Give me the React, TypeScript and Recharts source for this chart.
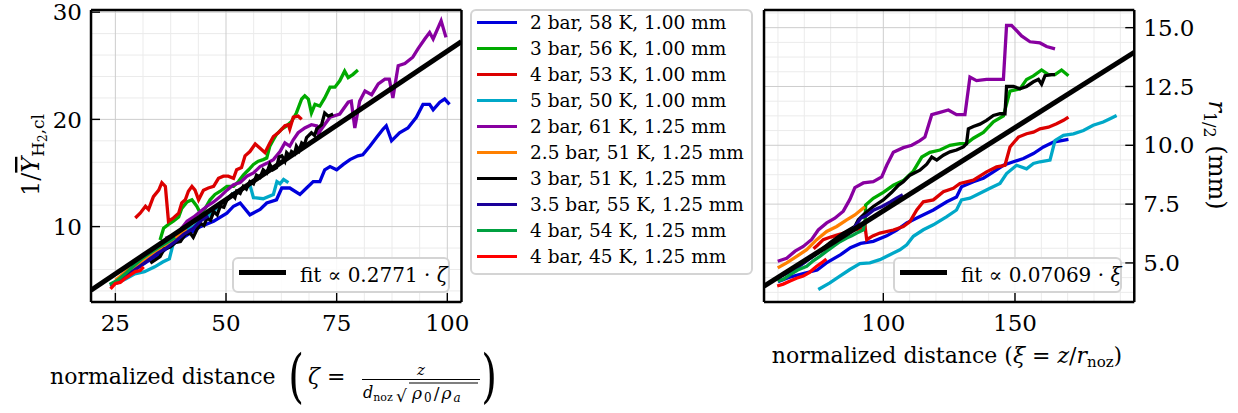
import React from 'react';
import { LineChart, Line, XAxis, YAxis, CartesianGrid } from 'recharts';

type Pt = [number, number];

const seriesLabels = [
  '2 bar, 58 K, 1.00 mm',
  '3 bar, 56 K, 1.00 mm',
  '4 bar, 53 K, 1.00 mm',
  '5 bar, 50 K, 1.00 mm',
  '2 bar, 61 K, 1.25 mm',
  '2.5 bar, 51 K, 1.25 mm',
  '3 bar, 51 K, 1.25 mm',
  '3.5 bar, 55 K, 1.25 mm',
  '4 bar, 54 K, 1.25 mm',
  '4 bar, 45 K, 1.25 mm',
];
const seriesColors = ['#0000dc', '#00aa00', '#dc0000', '#00a8c8', '#8800a0', '#ff8000', '#000000', '#1a0099', '#00a040', '#ff0000'];

// left panel: zeta vs 1/Y_H2,cl
const zeta2bar58K: Pt[] = [[23.9,4.4],[26.1,5.0],[29.1,5.9],[32.1,6.7],[35.1,7.5],[38.1,8.4],[41.2,9.2],[44.2,10.0],[47.2,10.5],[50.2,11.25],[51.7,11.9],[53.2,12.2],[55.4,11.1],[57.7,11.6],[59.2,12.2],[61.4,12.5],[62.6,13.6],[64.4,13.6],[66.7,13.0],[68.2,13.6],[69.7,14.2],[71.2,14.2],[72.3,15.3],[73.5,15.6],[75.0,15.3],[76.5,15.8],[78.0,16.25],[79.8,16.6],[80.9,16.7],[82.5,17.5],[84.0,18.3],[85.5,19.1],[86.2,19.4],[87.4,18.0],[89.2,18.75],[91.1,19.2],[93.0,20.2],[94.5,21.4],[96.0,21.4],[96.8,20.9],[98.3,21.6],[99.4,21.9],[100.5,21.4]];
const zeta3bar56K: Pt[] = [[35.1,8.75],[35.9,9.85],[37.0,10.2],[38.1,10.5],[39.3,10.9],[40.0,11.7],[41.2,12.3],[42.3,12.5],[43.4,11.9],[44.2,11.25],[45.3,11.7],[46.4,12.5],[47.5,13.0],[48.7,13.3],[50.2,13.75],[51.7,13.75],[52.8,14.2],[53.9,14.8],[55.1,15.3],[56.2,15.8],[57.3,16.1],[58.4,16.25],[59.2,16.4],[59.9,17.5],[60.7,18.1],[61.4,18.6],[62.6,19.1],[63.7,19.4],[64.8,19.8],[65.9,20.6],[67.1,21.9],[67.8,22.2],[68.6,21.9],[69.3,20.6],[70.1,21.4],[71.2,21.25],[72.3,22.0],[73.5,23.0],[74.6,23.0],[75.7,23.6],[76.8,24.5],[77.6,23.9],[78.7,24.2],[79.8,24.6]];
const zeta4bar53K: Pt[] = [[29.5,10.8],[30.6,11.25],[31.8,11.9],[32.5,11.6],[33.6,12.8],[34.8,13.4],[35.5,14.1],[36.3,13.75],[37.0,10.5],[38.1,10.8],[39.3,11.25],[40.0,12.2],[40.8,12.5],[41.5,13.3],[42.3,13.75],[43.0,13.4],[43.8,12.5],[44.9,13.4],[46.0,13.6],[47.2,13.75],[48.3,14.5],[49.4,14.7],[50.5,14.7],[51.7,14.5],[52.4,15.3],[53.5,15.5],[54.3,16.6],[55.4,17.0],[56.6,17.7],[57.7,17.3],[58.8,16.9],[59.9,17.8],[60.7,18.4],[61.8,18.75],[62.6,19.1],[63.3,19.4],[64.1,19.5],[64.4,19.1],[65.2,20.2],[66.3,20.3],[67.1,20.0]];
const zeta5bar50K: Pt[] = [[25.2,4.7],[27.3,5.1],[29.4,5.6],[31.6,5.8],[33.9,6.25],[35.7,6.7],[37.2,7.0],[38.0,8.3],[38.9,8.75],[40.0,9.2],[41.2,9.7],[42.7,10.0],[44.2,10.6],[45.7,10.9],[47.2,11.4],[48.7,12.2],[50.2,12.5],[51.7,13.1],[53.2,13.4],[54.7,13.75],[55.4,13.9],[56.2,12.7],[58.4,12.6],[60.7,13.0],[61.5,14.2],[62.2,14.0],[63.0,14.4],[64.1,14.1]];
const zeta2bar61K: Pt[] = [[36.3,8.9],[38.1,9.2],[39.7,9.7],[41.2,10.5],[42.7,10.9],[44.2,11.4],[45.7,11.9],[47.2,12.3],[48.7,12.8],[50.2,13.4],[51.7,13.9],[53.2,14.1],[54.7,14.7],[56.2,15.0],[57.7,15.6],[59.2,15.9],[60.7,16.25],[62.2,17.0],[63.3,17.8],[64.4,17.5],[65.2,18.1],[66.3,18.75],[67.8,19.2],[69.3,19.5],[70.5,19.4],[71.0,18.4],[71.2,18.9],[73.5,20.2],[75.7,20.5],[77.6,21.6],[78.3,21.7],[79.1,19.2],[80.2,21.7],[81.4,22.65],[82.9,22.3],[84.4,23.3],[85.9,23.75],[86.9,23.75],[87.7,22.0],[88.9,25.0],[90.4,25.2],[92.2,25.8],[93.4,26.6],[94.9,27.5],[96.0,28.1],[96.8,27.5],[98.6,29.2],[99.7,27.65]];
const zeta2p5bar51K: Pt[] = [[25.0,5.0],[26.5,5.5],[28.0,6.0],[29.5,6.3],[31.0,6.8],[32.5,7.2],[34.0,7.6],[35.5,8.0],[37.0,8.5],[38.5,8.9],[40.0,9.4],[41.0,9.8]];
const zeta3bar51K: Pt[] = [[32.9,6.6],[34.0,6.9],[35.1,7.2],[36.0,7.9],[37.4,8.1],[38.5,8.5],[39.7,8.6],[40.8,9.3],[41.9,9.4],[42.6,9.0],[43.4,9.7],[44.2,10.3],[45.0,10.1],[45.7,10.8],[46.5,10.6],[47.2,11.4],[48.0,11.1],[48.7,11.9],[49.5,11.8],[50.2,12.5],[51.3,13.0],[52.0,12.7],[52.4,13.3],[53.2,13.1],[53.9,13.75],[54.6,13.5],[55.4,14.2],[56.2,14.0],[56.9,14.8],[57.7,14.6],[58.4,15.3],[59.2,15.0],[59.9,15.8],[60.6,15.3],[61.4,15.5],[62.0,16.5],[62.6,16.6],[63.3,16.1],[63.7,16.9],[64.4,16.6],[64.8,17.0],[65.5,16.8],[65.9,17.5],[66.5,17.1],[67.1,17.8],[67.7,17.6],[68.2,18.3],[69.3,18.75],[70.0,18.5],[70.5,19.1],[71.6,19.5],[72.3,20.6],[73.1,20.3],[74.2,20.5]];
const zeta3p5bar55K: Pt[] = [[24.5,4.7],[26.5,5.2],[28.5,5.7],[30.5,6.3],[32.5,6.9],[34.5,7.5],[36.5,8.0],[38.5,8.6],[40.5,9.3],[42.5,9.8],[44.5,10.6],[46.0,11.0]];
const zeta4bar54K: Pt[] = [[23.7,4.6],[25.5,5.0],[27.5,5.7],[29.3,6.4],[31.0,7.0],[32.7,7.5],[35.0,8.1],[37.0,8.6],[38.5,9.0]];
const zeta4bar45K: Pt[] = [[23.9,4.2],[25.0,4.7],[26.1,4.8],[27.3,5.2],[28.4,5.5],[29.5,5.8],[30.6,5.9],[31.4,6.25]];
const zetaFit: Pt[] = [[19.5,4.07],[103.2,27.25]];

// right panel: xi vs r_1/2 (mm)
const xi2bar58K: Pt[] = [[60,4.2],[64.6,4.4],[69.6,4.55],[74.9,4.7],[78.4,5.0],[83.8,5.35],[87.5,5.65],[91.4,5.83],[96.2,5.92],[101.3,6.15],[105.1,6.4],[108.9,6.7],[113.9,6.97],[119.0,7.25],[124.1,7.6],[127.8,7.8],[129.7,8.24],[134.2,8.45],[138.0,8.6],[141.8,8.87],[145.6,9.15],[149.4,9.3],[153.2,9.44],[157.0,9.65],[160.8,9.93],[164.6,10.14],[167.7,10.2],[170.3,10.25]];
const xi3bar56K: Pt[] = [[93.0,6.5],[93.3,7.46],[96.2,7.75],[100,8.0],[103.8,8.3],[107.6,8.5],[111.4,8.9],[114.6,9.5],[117.7,9.7],[121.5,9.8],[125.3,10.0],[129.1,10.07],[131.6,10.07],[134.2,10.3],[138.0,10.55],[141.8,11.0],[145.6,11.25],[148.1,12.3],[151.9,12.4],[154.4,12.8],[157.0,12.95],[160.1,13.2],[162.7,13.0],[165.2,13.0],[167.7,13.2],[170.3,12.96]];
const xi4bar53K: Pt[] = [[73.5,5.6],[75,5.75],[77.2,5.99],[80,6.1],[83,6.2],[86.1,6.3],[89.2,6.4],[92.4,6.48],[93.0,6.6],[93.7,5.99],[96,6.15],[98.7,6.27],[103.8,6.4],[107.6,6.55],[110.1,6.76],[112.7,7.25],[115.2,7.6],[119.0,7.68],[122.8,8.03],[126.6,8.17],[129.1,8.38],[134.2,8.52],[139.2,8.87],[143.0,9.08],[146.2,9.15],[148.1,9.93],[151.3,10.35],[154.4,10.49],[157.0,10.56],[159.5,10.7],[162.7,10.77],[165.8,10.92],[168.4,11.06],[170.3,11.2]];
const xi5bar50K: Pt[] = [[75.3,3.87],[79.7,4.15],[83.5,4.44],[87.3,4.72],[91.1,4.97],[94.9,5.0],[98.7,5.14],[102.5,5.35],[106.3,5.56],[108.9,5.77],[111.4,6.13],[115.2,6.41],[119.0,6.62],[124.1,6.97],[127.8,7.25],[129.7,7.68],[132.9,7.75],[136.7,7.96],[140.5,8.17],[144.3,8.38],[146.8,8.8],[150.6,9.15],[154.4,9.0],[157.0,9.23],[159.5,9.3],[163.3,9.37],[165.2,10.2],[168.4,10.42],[172.2,10.49],[176.0,10.63],[179.7,10.85],[183.5,10.99],[186.1,11.13],[188.6,11.27]];
const xi2bar61K: Pt[] = [[59.9,5.07],[63.3,5.2],[66.5,5.5],[69.6,5.7],[72.8,6.0],[75.3,6.4],[78.5,6.7],[81.6,6.9],[84.8,7.2],[87.3,7.7],[89.2,8.2],[92.4,8.4],[96.2,8.45],[99.4,8.66],[101.3,9.15],[103.8,9.7],[107.6,9.9],[110.8,10.0],[113.9,10.2],[115.8,10.35],[118.4,11.3],[121.5,11.4],[124.7,11.5],[127.8,11.3],[131.0,11.3],[132.9,12.9],[135.4,12.75],[139.2,12.8],[143.0,12.8],[145.6,12.8],[146.8,15.1],[148.7,15.1],[152.5,14.65],[155.7,14.4],[159.5,14.35],[162.0,14.2],[165.2,14.1]];
const xi2p5bar51K: Pt[] = [[59.9,4.79],[63.3,5.0],[67.1,5.28],[70.9,5.56],[74.7,5.99],[78.5,6.34],[82.3,6.55],[86.1,6.83],[89.2,7.04],[93.0,7.39]];
const xi3bar51K: Pt[] = [[59.9,4.37],[64.6,4.65],[69.6,5.0],[74.7,5.4],[79.7,5.85],[84.8,6.27],[89.2,6.55],[90.5,6.83],[93.0,7.1],[96.2,7.4],[100,7.68],[103.2,8.0],[105.7,8.3],[107.6,8.45],[110.1,8.73],[113.9,8.94],[116.5,9.2],[118.4,9.5],[120.3,9.37],[122.8,9.58],[125.3,9.72],[127.8,9.8],[130.4,9.93],[131.6,10.07],[132.3,10.7],[134.2,10.8],[136.7,10.9],[139.2,11.06],[141.8,11.27],[144.3,11.34],[146.2,11.34],[146.8,12.5],[149.4,12.5],[151.9,12.4],[154.4,12.5],[157.0,12.7],[158.9,12.8],[160.1,12.6],[161.4,12.96],[163.9,13.0],[165.2,13.0]];
const xi3p5bar55K: Pt[] = [[59.7,4.37],[63,4.55],[67.3,4.79],[71,5.1],[74.9,5.42],[78.5,5.7],[82.5,5.98],[86,6.2],[88.8,6.47],[91.4,6.9],[93.5,7.0],[96.4,7.25],[99.5,7.4],[102.8,7.6],[105,7.75],[107.4,7.9]];
const xi4bar54K: Pt[] = [[59.9,4.23],[62,4.3],[64.6,4.5],[67.5,4.7],[70.9,4.86],[73.5,5.1],[75.9,5.28],[78.5,5.5],[81.0,5.7],[83.5,5.9],[86.1,6.06],[88,6.15],[89.9,6.27],[92.4,6.4],[93.0,6.8]];
const xi4bar45K: Pt[] = [[59.7,4.02],[62,4.1],[64.6,4.23],[67,4.35],[69.6,4.44],[72,4.6],[74.7,4.86],[76.5,5.0],[78.4,5.17]];
const xiFit: Pt[] = [[54.7,4.01],[195.3,13.95]];

const leftSeries = [zeta2bar58K, zeta3bar56K, zeta4bar53K, zeta5bar50K, zeta2bar61K, zeta2p5bar51K, zeta3bar51K, zeta3p5bar55K, zeta4bar54K, zeta4bar45K];
const rightSeries = [xi2bar58K, xi3bar56K, xi4bar53K, xi5bar50K, xi2bar61K, xi2p5bar51K, xi3bar51K, xi3p5bar55K, xi4bar54K, xi4bar45K];

// ticks
const zetaMajor = [25, 50, 75, 100];
const zetaMinor = [31.25, 37.5, 43.75, 56.25, 62.5, 68.75, 81.25, 87.5, 93.75];
const invYMajor = [10, 20, 30];
const invYMinor = [4, 6, 8, 12, 14, 16, 18, 22, 24, 26, 28];
const xiMajor = [100, 150];
const xiMinor = [60, 70, 80, 90, 110, 120, 130, 140, 160, 170, 180, 190];
const rMajor = [5, 7.5, 10, 12.5, 15];
const rMinor = [3.75, 4.375, 5.625, 6.25, 6.875, 8.125, 8.75, 9.375, 10.625, 11.25, 11.875, 13.125, 13.75, 14.375, 15.625];

const FONT = "'DejaVu Serif', serif";
const tickFont = { fontFamily: FONT, fontSize: 23, fill: '#000' };
const frame = { stroke: '#000', strokeWidth: 2.5 };
const pen = { stroke: '#000', strokeWidth: 1.4 };
const THIN = 0.01; // axes take (almost) no room; the margins place the plot box

const toRows = (pts: Pt[]) => pts.map(([x, y]) => ({ x, y }));

interface PanelProps {
  width: number;
  margin: { top: number; right: number; bottom: number; left: number };
  xDomain: [number, number];
  yDomain: [number, number];
  xMajor: number[];
  xMinor: number[];
  yMajor: number[];
  yMinor: number[];
  ySide: 'left' | 'right';
  series: Pt[][];
  fit: Pt[];
  yFormat?: (v: number) => string;
}

const Panel = ({ width, margin, xDomain, yDomain, xMajor, xMinor, yMajor, yMinor, ySide, series, fit, yFormat }: PanelProps) => {
  const otherSide = ySide === 'left' ? 'right' : 'left';
  const common = { type: 'number' as const, allowDataOverflow: true, interval: 0 as const };
  return (
    <LineChart width={width} height={413} margin={margin}>
      <CartesianGrid xAxisId="x" yAxisId="y" verticalValues={xMinor} horizontalValues={yMinor} stroke="#ebebeb" strokeWidth={1} />
      <CartesianGrid xAxisId="x" yAxisId="y" verticalValues={xMajor} horizontalValues={yMajor} stroke="#cdcdcd" strokeWidth={1} />
      <XAxis xAxisId="x" dataKey="x" {...common} domain={xDomain} ticks={xMajor} height={THIN}
        tickSize={-9} tickMargin={22} tick={tickFont} axisLine={frame} tickLine={pen} />
      <XAxis xAxisId="xm" {...common} domain={xDomain} ticks={xMinor} height={THIN}
        tickSize={-5.5} tick={false} axisLine={false} tickLine={pen} />
      <XAxis xAxisId="xt" orientation="top" {...common} domain={xDomain} ticks={xMajor} height={THIN}
        tickSize={-9} tick={false} axisLine={frame} tickLine={pen} />
      <XAxis xAxisId="xtm" orientation="top" {...common} domain={xDomain} ticks={xMinor} height={THIN}
        tickSize={-5.5} tick={false} axisLine={false} tickLine={pen} />
      <YAxis yAxisId="y" orientation={ySide} {...common} domain={yDomain} ticks={yMajor} width={THIN}
        tickSize={-9} tickMargin={18} tick={tickFont} axisLine={frame} tickLine={pen} tickFormatter={yFormat} />
      <YAxis yAxisId="ym" orientation={ySide} {...common} domain={yDomain} ticks={yMinor} width={THIN}
        tickSize={-5.5} tick={false} axisLine={false} tickLine={pen} />
      <YAxis yAxisId="yo" orientation={otherSide} {...common} domain={yDomain} ticks={yMajor} width={THIN}
        tickSize={-9} tick={false} axisLine={frame} tickLine={pen} />
      <YAxis yAxisId="yom" orientation={otherSide} {...common} domain={yDomain} ticks={yMinor} width={THIN}
        tickSize={-5.5} tick={false} axisLine={false} tickLine={pen} />
      {series.map((pts, i) => (
        <Line key={seriesLabels[i]} name={seriesLabels[i]} xAxisId="x" yAxisId="y" data={toRows(pts)} dataKey="y"
          type="linear" stroke={seriesColors[i]} strokeWidth={3.3} dot={false} isAnimationActive={false} />
      ))}
      <Line name="fit" xAxisId="x" yAxisId="y" data={toRows(fit)} dataKey="y" type="linear"
        stroke="#000" strokeWidth={5} dot={false} isAnimationActive={false} />
    </LineChart>
  );
};

const FitLegend = ({ left, width, coef, sym }: { left: number; width: number; coef: string; sym: string }) => (
  <div style={{ position: 'absolute', left, top: 257, width, height: 36, boxSizing: 'border-box',
    border: '2px solid #d4d4d4', borderRadius: 6, background: 'rgba(255,255,255,0.85)' }}>
    <div style={{ position: 'absolute', left: 5, top: 11, width: 47, height: 5, background: '#000' }} />
    <div style={{ position: 'absolute', left: 66, top: 0, lineHeight: '32px', fontFamily: FONT, fontSize: 20, whiteSpace: 'nowrap' }}>
      fit ∝ {coef} · <i>{sym}</i>
    </div>
  </div>
);

const SeriesLegend = () => (
  <div style={{ position: 'absolute', left: 470, top: 9, width: 283, height: 266, boxSizing: 'border-box',
    border: '2px solid #d4d4d4', borderRadius: 6, background: '#fff' }}>
    {seriesLabels.map((label, i) => (
      <div key={label} style={{ position: 'absolute', left: 0, top: -1.3 + 26 * i, height: 26, width: 279 }}>
        <div style={{ position: 'absolute', left: 5, top: 11.3, width: 40, height: 3.4, background: seriesColors[i] }} />
        <div style={{ position: 'absolute', left: 58, top: 0, lineHeight: '26px', fontFamily: FONT, fontSize: 18.5, whiteSpace: 'nowrap' }}>
          {label}
        </div>
      </div>
    ))}
  </div>
);

const AxisLabels = () => (
  <svg width={1238} height={413} style={{ position: 'absolute', left: 0, top: 0, pointerEvents: 'none' }}
    fontFamily={FONT} fill="#000">
    {/* left y label */}
    <text transform="translate(39,155) rotate(-90)" textAnchor="middle" fontSize={24}>
      1/<tspan fontStyle="italic" textDecoration="overline">Y</tspan>
      <tspan fontSize={17} dy={5}>H</tspan>
      <tspan fontSize={12} dy={3}>2</tspan>
      <tspan fontSize={17} dy={-3}>,cl</tspan>
    </text>
    {/* right y label */}
    <text transform="translate(1209,155) rotate(90)" textAnchor="middle" fontSize={24}>
      <tspan fontStyle="italic">r</tspan>
      <tspan fontSize={16} dy={5}>1/2</tspan>
      <tspan dy={-5}>{' (mm)'}</tspan>
    </text>
    {/* left x label */}
    <text x={50} y={384} fontSize={22}>normalized distance</text>
    <text transform="translate(296,396) scale(0.72,1.05)" textAnchor="middle" fontSize={56}>(</text>
    <text x={308} y={384} fontSize={22}><tspan fontStyle="italic">ζ</tspan>{' ='}</text>
    <text x={421} y={375} textAnchor="middle" fontSize={15} fontStyle="italic">z</text>
    <line x1={362} x2={480} y1={379.5} y2={379.5} stroke="#000" strokeWidth={1.2} />
    <text x={363} y={398} fontSize={16}>
      <tspan fontStyle="italic">d</tspan>
      <tspan fontSize={11} dy={3}>noz</tspan>
    </text>
    <text x={396} y={402} fontSize={17}>√</text>
    <line x1={409} x2={478} y1={383} y2={383} stroke="#000" strokeWidth={1.1} />
    <text x={412} y={399} fontSize={17} letterSpacing={2}>
      <tspan fontStyle="italic">ρ</tspan>
      <tspan fontSize={12} dy={3}>0</tspan>
      <tspan dy={-3}>/</tspan>
      <tspan fontStyle="italic">ρ</tspan>
      <tspan fontSize={12} dy={3} fontStyle="italic">a</tspan>
    </text>
    <text transform="translate(489,396) scale(0.72,1.05)" textAnchor="middle" fontSize={56}>)</text>
    {/* right x label */}
    <text x={947} y={363} textAnchor="middle" fontSize={22}>
      {'normalized distance ('}
      <tspan fontStyle="italic">ξ</tspan>
      {' = '}
      <tspan fontStyle="italic">z</tspan>
      /
      <tspan fontStyle="italic">r</tspan>
      <tspan fontSize={15} dy={4}>noz</tspan>
      <tspan dy={-4}>)</tspan>
    </text>
  </svg>
);

export default function App() {
  return (
    <div style={{ position: 'fixed', left: 0, top: 0, width: 1238, height: 413, background: '#fff', overflow: 'hidden' }}>
      <div style={{ position: 'absolute', left: 0, top: 0 }}>
        <Panel width={470} margin={{ top: 10, right: 8.5, bottom: 111, left: 91 }}
          xDomain={[19.5, 103.2]} yDomain={[2.97, 30.2]}
          xMajor={zetaMajor} xMinor={zetaMinor} yMajor={invYMajor} yMinor={invYMinor}
          ySide="left" series={leftSeries} fit={zetaFit} />
      </div>
      <div style={{ position: 'absolute', left: 740, top: 0 }}>
        <Panel width={498} margin={{ top: 10, right: 103.7, bottom: 111, left: 24 }}
          xDomain={[54.7, 195.3]} yDomain={[3.34, 15.75]}
          xMajor={xiMajor} xMinor={xiMinor} yMajor={rMajor} yMinor={rMinor}
          ySide="right" series={rightSeries} fit={xiFit} yFormat={(v: number) => v.toFixed(1)} />
      </div>
      <FitLegend left={232} width={218} coef="0.2771" sym="ζ" />
      <FitLegend left={893} width={229} coef="0.07069" sym="ξ" />
      <SeriesLegend />
      <AxisLabels />
    </div>
  );
}
